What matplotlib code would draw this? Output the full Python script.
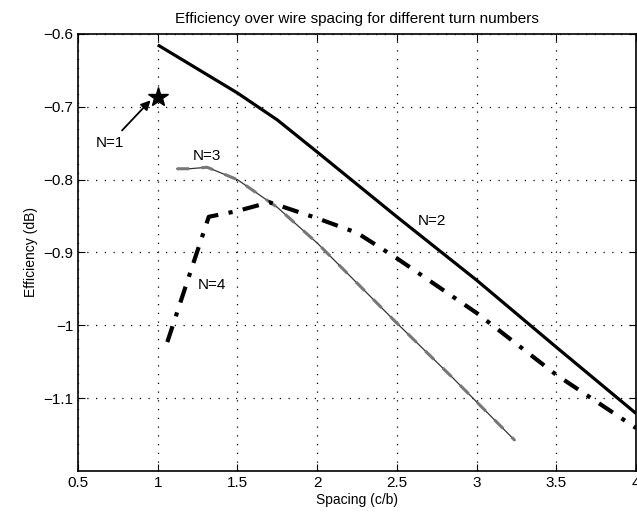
import matplotlib.pyplot as plt
from matplotlib.ticker import FixedLocator

plt.rcParams['font.family'] = ['Liberation Sans', 'DejaVu Sans']

# N=1 single point
n1_x = [1.0]
n1_y = [-0.687]

# N=2
n2_x = [1.0, 1.5, 1.75, 2.0, 2.5, 3.0, 3.5, 4.0]
n2_y = [-0.615, -0.681, -0.718, -0.762, -0.851, -0.938, -1.03, -1.121]

# N=3
n3_x = [1.12, 1.2, 1.31, 1.5, 1.75, 2.0, 2.5, 2.85, 3.24]
n3_y = [-0.785, -0.785, -0.783, -0.80, -0.838, -0.887, -0.997, -1.072, -1.158]

# N=4
n4_x = [1.06, 1.2, 1.32, 1.5, 1.7, 2.0, 2.25, 2.5, 3.0, 3.5, 4.0]
n4_y = [-1.023, -0.93, -0.851, -0.843, -0.831, -0.853, -0.873, -0.908, -0.983, -1.068, -1.141]

xticks = [0.5, 1, 1.5, 2, 2.5, 3, 3.5, 4]
xtick_labels = ['0.5', '1', '1.5', '2', '2.5', '3', '3.5', '4']
yticks = [-1.1, -1, -0.9, -0.8, -0.7, -0.6]
ytick_labels = ['\u22121.1', '\u22121', '\u22120.9', '\u22120.8', '\u22120.7', '\u22120.6']

fig = plt.figure(figsize=(6.37, 5.19), dpi=100)
ax = fig.add_axes([0.1225, 0.0925, 0.876, 0.842])

ax.plot(n2_x, n2_y, color='black', lw=2.3, solid_capstyle='butt')
ax.plot(n3_x, n3_y, color='#333333', lw=0.9)
ax.plot(n3_x, n3_y, color='#777777', lw=2.2, ls=(0, (4, 4)))
ax.plot(n4_x, n4_y, color='black', lw=3.0, ls=(0, (4, 2.5, 1, 2.5)))
ax.plot(n1_x, n1_y, marker='*', color='black', ms=15, ls='none')

ax.annotate('N=1', xy=(0.955, -0.691), xytext=(0.70, -0.75),
            fontsize=11, ha='center', va='center',
            arrowprops=dict(arrowstyle='-|>', color='black', lw=1.3,
                            shrinkA=3, shrinkB=0, mutation_scale=14))
ax.text(1.31, -0.768, 'N=3', fontsize=11, ha='center', va='center')
ax.text(2.72, -0.857, 'N=2', fontsize=11, ha='center', va='center')
ax.text(1.34, -0.945, 'N=4', fontsize=11, ha='center', va='center')

ax.set_xlim(0.5, 4)
ax.set_ylim(-1.2, -0.6)
ax.xaxis.set_major_locator(FixedLocator(xticks))
ax.set_xticklabels(xtick_labels)
ax.set_yticks(yticks)
ax.set_yticklabels(ytick_labels)
ax.tick_params(direction='in', top=True, right=True, labelsize=11, length=5, width=0.8)
ax.grid(True, color='black', ls=(0, (1, 6)), lw=0.9)
for s in ax.spines.values():
    s.set_linewidth(1.2)

ax.set_title('Efficiency over wire spacing for different turn numbers', fontsize=11, pad=8)
ax.set_xlabel('Spacing (c/b)', fontsize=10, labelpad=2)
ax.set_ylabel('Efficiency (dB)', fontsize=10, labelpad=4)

fig.savefig('out.png', dpi=100)
